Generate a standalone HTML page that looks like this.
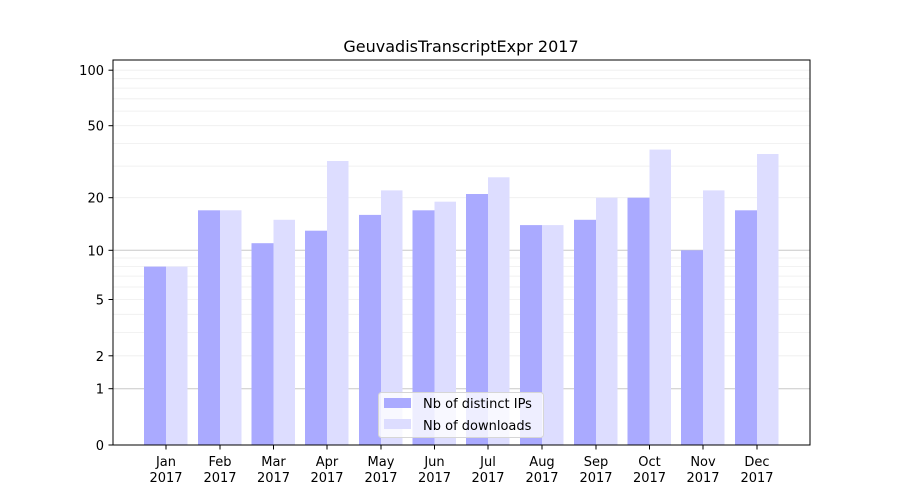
<!DOCTYPE html>
<html><head><meta charset="utf-8"><style>
body{margin:0;background:#fff}
svg{display:block;font-family:"DejaVu Sans","Liberation Sans",sans-serif}
</style></head><body>
<svg width="900" height="500" xmlns="http://www.w3.org/2000/svg">
<rect width="900" height="500" fill="#fff"/>
<g stroke="#eeeeee" stroke-width="0.8">
<line x1="113" x2="810" y1="355.8" y2="355.8"/><line x1="113" x2="810" y1="332.4" y2="332.4"/>
<line x1="113" x2="810" y1="314.3" y2="314.3"/><line x1="113" x2="810" y1="299.5" y2="299.5"/>
<line x1="113" x2="810" y1="287" y2="287"/><line x1="113" x2="810" y1="276.1" y2="276.1"/>
<line x1="113" x2="810" y1="266.6" y2="266.6"/><line x1="113" x2="810" y1="258" y2="258"/>
<line x1="113" x2="810" y1="197.7" y2="197.7"/><line x1="113" x2="810" y1="166.1" y2="166.1"/>
<line x1="113" x2="810" y1="143.4" y2="143.4"/><line x1="113" x2="810" y1="125.7" y2="125.7"/>
<line x1="113" x2="810" y1="111.1" y2="111.1"/><line x1="113" x2="810" y1="98.8" y2="98.8"/>
<line x1="113" x2="810" y1="88.1" y2="88.1"/><line x1="113" x2="810" y1="78.7" y2="78.7"/>
<line x1="113" x2="810" y1="70.2" y2="70.2"/>
</g>
<g stroke="#c8c8c8" stroke-width="1">
<line x1="113" x2="810" y1="388.7" y2="388.7"/><line x1="113" x2="810" y1="250.3" y2="250.3"/>
</g>
<g fill="#aaaaff">
<rect x="144" y="266.6" width="22" height="178.4"/>
<rect x="198" y="210.3" width="22" height="234.7"/>
<rect x="251.5" y="243.2" width="22" height="201.8"/>
<rect x="305" y="230.7" width="22" height="214.3"/>
<rect x="359" y="214.9" width="22" height="230.1"/>
<rect x="412.5" y="210.3" width="22" height="234.7"/>
<rect x="466" y="194" width="22" height="251"/>
<rect x="520" y="225.1" width="22" height="219.9"/>
<rect x="574" y="219.8" width="22" height="225.2"/>
<rect x="627.5" y="197.7" width="22" height="247.3"/>
<rect x="681" y="250.3" width="22" height="194.7"/>
<rect x="735" y="210.3" width="22" height="234.7"/>
</g>
<g fill="#ddddff">
<rect x="166" y="266.6" width="21.5" height="178.4"/>
<rect x="220" y="210.3" width="21.5" height="234.7"/>
<rect x="273.5" y="219.8" width="21.5" height="225.2"/>
<rect x="327" y="161" width="21.5" height="284"/>
<rect x="381" y="190.4" width="21.5" height="254.6"/>
<rect x="434.5" y="201.7" width="21.5" height="243.3"/>
<rect x="488" y="177.3" width="21.5" height="267.7"/>
<rect x="542" y="225.1" width="21.5" height="219.9"/>
<rect x="596" y="197.7" width="21.5" height="247.3"/>
<rect x="649.5" y="149.6" width="21.5" height="295.4"/>
<rect x="703" y="190.4" width="21.5" height="254.6"/>
<rect x="757" y="154" width="21.5" height="291"/>
</g>
<rect x="113" y="60" width="697" height="385" fill="none" stroke="#000" stroke-width="1"/>
<g stroke="#000" stroke-width="1">
<line x1="108.5" x2="113" y1="445" y2="445"/><line x1="108.5" x2="113" y1="388.7" y2="388.7"/>
<line x1="108.5" x2="113" y1="355.8" y2="355.8"/><line x1="108.5" x2="113" y1="299.5" y2="299.5"/>
<line x1="108.5" x2="113" y1="250.3" y2="250.3"/><line x1="108.5" x2="113" y1="197.7" y2="197.7"/>
<line x1="108.5" x2="113" y1="125.7" y2="125.7"/><line x1="108.5" x2="113" y1="70.2" y2="70.2"/>
</g>
<g font-size="13" text-anchor="end" fill="#000">
<text x="104" y="450">0</text><text x="104" y="393.7">1</text><text x="104" y="360.8">2</text>
<text x="104" y="304.5">5</text><text x="104" y="255.3">10</text><text x="104" y="202.7">20</text>
<text x="104" y="130.7">50</text><text x="104" y="75.2">100</text>
</g>
<g stroke="#000" stroke-width="1">
<line x1="166" x2="166" y1="445" y2="449.5"/><line x1="220" x2="220" y1="445" y2="449.5"/>
<line x1="273.5" x2="273.5" y1="445" y2="449.5"/><line x1="327" x2="327" y1="445" y2="449.5"/>
<line x1="381" x2="381" y1="445" y2="449.5"/><line x1="434.5" x2="434.5" y1="445" y2="449.5"/>
<line x1="488" x2="488" y1="445" y2="449.5"/><line x1="542" x2="542" y1="445" y2="449.5"/>
<line x1="596" x2="596" y1="445" y2="449.5"/><line x1="649.5" x2="649.5" y1="445" y2="449.5"/>
<line x1="703" x2="703" y1="445" y2="449.5"/><line x1="757" x2="757" y1="445" y2="449.5"/>
</g>
<g font-size="13" text-anchor="middle" fill="#000">
<text x="166" y="466">Jan</text><text x="166" y="482">2017</text>
<text x="220" y="466">Feb</text><text x="220" y="482">2017</text>
<text x="273.5" y="466">Mar</text><text x="273.5" y="482">2017</text>
<text x="327" y="466">Apr</text><text x="327" y="482">2017</text>
<text x="381" y="466">May</text><text x="381" y="482">2017</text>
<text x="434.5" y="466">Jun</text><text x="434.5" y="482">2017</text>
<text x="488" y="466">Jul</text><text x="488" y="482">2017</text>
<text x="542" y="466">Aug</text><text x="542" y="482">2017</text>
<text x="596" y="466">Sep</text><text x="596" y="482">2017</text>
<text x="649.5" y="466">Oct</text><text x="649.5" y="482">2017</text>
<text x="703" y="466">Nov</text><text x="703" y="482">2017</text>
<text x="757" y="466">Dec</text><text x="757" y="482">2017</text>
</g>
<text x="461" y="52" font-size="16" text-anchor="middle">GeuvadisTranscriptExpr 2017</text>
<rect x="378.5" y="392.5" width="165" height="45" rx="3" fill="#fff" fill-opacity="0.8" stroke="#d6d6d6"/>
<rect x="384" y="398" width="27" height="10" fill="#aaaaff"/>
<rect x="384" y="419" width="27" height="10" fill="#ddddff"/>
<g font-size="13" fill="#000">
<text x="423" y="408">Nb of distinct IPs</text>
<text x="423" y="430">Nb of downloads</text>
</g>
</svg>
</body></html>
